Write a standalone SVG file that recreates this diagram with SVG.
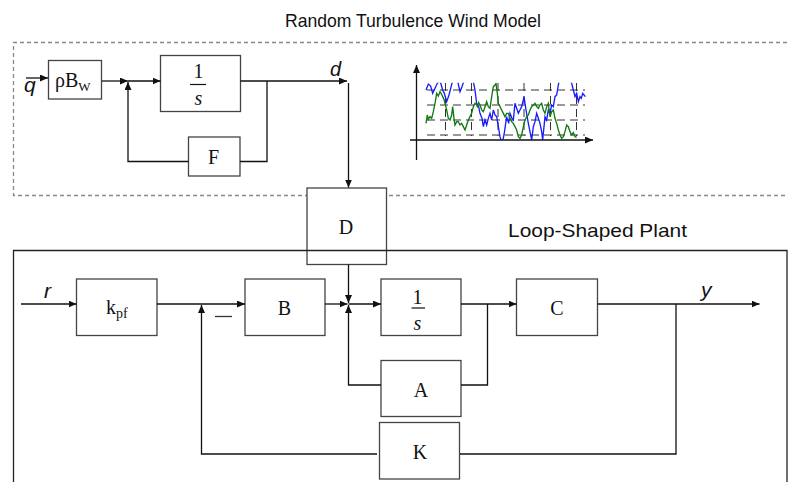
<svg xmlns="http://www.w3.org/2000/svg" width="788" height="482" viewBox="0 0 788 482">
<style>
.box{fill:#fff;stroke:#444;stroke-width:1.3}
.ln{fill:none;stroke:#111;stroke-width:1.3}
.dash{fill:none;stroke:#888;stroke-width:1.3;stroke-dasharray:4 3}
.serif{font-family:"Liberation Serif","Times New Roman",serif;fill:#111}
.sans{font-family:"Liberation Sans",Arial,sans-serif;fill:#111}
.it{font-family:"Liberation Sans",Arial,sans-serif;font-style:italic;fill:#111}
.grid{fill:none;stroke:#333;stroke-width:1;stroke-dasharray:8 5}
</style>
<defs>
<marker id="ah" markerUnits="userSpaceOnUse" markerWidth="8" markerHeight="7" refX="8" refY="3.5" orient="auto">
<path d="M0,0 L8,3.5 L0,7 z" fill="#111"/>
</marker>
<clipPath id="cc"><rect x="60" y="68" width="510" height="171"/></clipPath>
</defs>

<rect width="788" height="482" fill="#fff"/>

<!-- wind model container -->
<g id="wind-model">
<path class="dash" d="M787,42.5 H13.5 V195.5 H787"/>
<text class="sans" x="285" y="26.5" font-size="18.5" textLength="256" lengthAdjust="spacingAndGlyphs">Random Turbulence Wind Model</text>
</g>

<!-- turbulence chart -->
<g id="chart">
<line class="grid" x1="427" y1="90" x2="585" y2="90"/>
<line class="grid" x1="427" y1="105" x2="585" y2="105"/>
<line class="grid" x1="427" y1="120" x2="585" y2="120"/>
<line class="grid" x1="427" y1="135" x2="585" y2="135"/>
<line class="grid" x1="445.5" y1="83" x2="445.5" y2="136"/>
<line class="grid" x1="471.5" y1="83" x2="471.5" y2="136"/>
<line class="grid" x1="498" y1="83" x2="498" y2="136"/>
<line class="grid" x1="524" y1="83" x2="524" y2="136"/>
<line class="grid" x1="550.5" y1="83" x2="550.5" y2="136"/>
<line class="grid" x1="576.5" y1="83" x2="576.5" y2="136"/>
<g transform="translate(400,60) scale(0.33333)" clip-path="url(#cc)">
<polyline fill="none" stroke="#1a1aff" stroke-width="4" points="78,90 85,72 92,78 98,100 105,85 112,70 120,62 128,90 133,100 140,125 147,105 152,85 158,62 170,50 180,95 186,80 192,62 205,50 220,65 225,90 230,130 236,140 240,160 246,175 250,200 255,180 260,195 265,175 270,160 275,180 280,150 285,165 290,170 295,200 300,230 306,250 312,225 320,170 326,190 330,160 336,175 340,180 345,130 350,145 355,160 360,150 365,140 370,120 372,110 378,150 385,190 390,215 395,240 400,200 405,185 410,160 415,175 420,190 425,215 428,240 432,200 435,170 440,180 445,150 450,160 455,135 460,140 465,110 470,105 475,75 480,50 510,50 515,70 520,90 525,110 530,100 535,125 540,110 544,115 548,100 552,105 556,110"/>
<polyline fill="none" stroke="#107a10" stroke-width="4" points="78,190 82,165 85,178 90,170 95,175 100,155 105,130 110,100 115,108 120,95 125,103 128,110 132,118 135,130 140,150 145,175 150,180 155,165 158,140 162,175 165,195 170,185 175,185 180,195 185,190 190,200 195,210 200,195 205,180 210,170 215,160 220,140 225,130 230,135 232,140 236,128 240,135 245,150 250,155 255,140 260,125 265,140 270,145 275,110 280,80 285,75 288,70 292,100 295,130 300,140 305,150 310,160 315,170 320,160 325,160 330,175 335,185 340,190 345,200 350,210 355,230 360,235 365,225 370,200 375,180 380,170 385,165 390,150 395,140 400,135 405,130 410,140 415,145 420,135 425,130 430,150 435,160 440,140 445,130 450,170 455,155 460,150 465,175 470,190 475,210 480,225 485,235 490,230 495,215 500,195 505,200 510,215 515,225 520,218 525,230 530,232"/>
</g>
<line class="ln" x1="416.5" y1="160" x2="416.5" y2="65" marker-end="url(#ah)"/>
<line class="ln" x1="410" y1="140" x2="593" y2="140" marker-end="url(#ah)"/>
</g>

<!-- nodes of wind model -->
<g id="node-rhoBw">
<rect class="box" x="48.5" y="60.5" width="53" height="38.5"/>
<text class="serif" x="55" y="87" font-size="20">ρB<tspan font-size="13" dy="4">W</tspan></text>
</g>
<g id="node-integrator-w">
<rect class="box" x="160.5" y="55.5" width="80" height="56"/>
<text class="serif" x="198.5" y="78" font-size="20" text-anchor="middle">1</text>
<line x1="190" y1="84.5" x2="206" y2="84.5" stroke="#111" stroke-width="1.2"/>
<text class="serif" x="198.5" y="105" font-size="20" font-style="italic" text-anchor="middle">s</text>
</g>
<g id="node-F">
<rect class="box" x="188.5" y="137" width="51.5" height="39"/>
<text class="serif" x="213.5" y="164" font-size="20" text-anchor="middle">F</text>
</g>
<g id="label-q">
<text class="it" x="24" y="92" font-size="21">q</text>
<line class="ln" x1="26" y1="78" x2="48" y2="78" marker-end="url(#ah)"/>
</g>
<g id="label-d">
<text class="it" x="330" y="76" font-size="20">d</text>
</g>

<!-- D node -->
<g id="node-D">
<rect class="box" x="307" y="188" width="79.5" height="76.5"/>
<text class="serif" x="346" y="234" font-size="20" text-anchor="middle">D</text>
</g>

<!-- plant container -->
<g id="loop-shaped-plant">
<path fill="none" stroke="#222" stroke-width="1.3" d="M13.5,484 V250.5 H787 V484"/>
<text class="sans" x="508" y="237" font-size="18.5" textLength="179" lengthAdjust="spacingAndGlyphs">Loop-Shaped Plant</text>
</g>

<g id="node-kpf">
<rect class="box" x="76.5" y="279" width="80.5" height="56.5"/>
<text class="serif" x="106" y="314" font-size="20">k<tspan font-size="14" dy="4">pf</tspan></text>
</g>
<g id="node-B">
<rect class="box" x="245" y="279" width="80" height="56.5"/>
<text class="serif" x="284.5" y="315" font-size="20" text-anchor="middle">B</text>
</g>
<g id="node-integrator">
<rect class="box" x="381" y="279" width="80" height="56.5"/>
<text class="serif" x="417.5" y="304" font-size="20" text-anchor="middle">1</text>
<line x1="411.5" y1="308" x2="425" y2="308" stroke="#111" stroke-width="1.2"/>
<text class="serif" x="417.5" y="330" font-size="20" font-style="italic" text-anchor="middle">s</text>
</g>
<g id="node-C">
<rect class="box" x="516.5" y="279" width="81" height="56.5"/>
<text class="serif" x="557" y="315" font-size="20" text-anchor="middle">C</text>
</g>
<g id="node-A">
<rect class="box" x="381" y="360.5" width="80" height="56"/>
<text class="serif" x="421" y="397" font-size="20" text-anchor="middle">A</text>
</g>
<g id="node-K">
<rect class="box" x="379.5" y="422.5" width="80" height="56.5"/>
<text class="serif" x="420" y="459" font-size="20" text-anchor="middle">K</text>
</g>
<g id="labels-plant">
<text class="it" x="44" y="298" font-size="21">r</text>
<text class="it" x="701" y="297" font-size="21">y</text>
<line x1="215" y1="316.5" x2="232" y2="316.5" stroke="#333" stroke-width="1.3"/>
</g>

<!-- connectors -->
<g id="connectors" class="ln">
<polyline class="ln" points="102,81 128,81" marker-end="url(#ah)"/>
<polyline class="ln" points="128,81 160.5,81" marker-end="url(#ah)"/>
<polyline class="ln" points="240.5,81 347,81" marker-end="url(#ah)"/>
<polyline class="ln" points="267,81 267,161.5 240,161.5"/>
<polyline class="ln" points="188.5,161.5 128,161.5 128,82" marker-end="url(#ah)"/>
<polyline class="ln" points="348.5,83 348.5,187.5" marker-end="url(#ah)"/>
<polyline class="ln" points="21,304 76.5,304" marker-end="url(#ah)"/>
<polyline class="ln" points="157,304 245,304" marker-end="url(#ah)"/>
<polyline class="ln" points="377,454 201.5,454 201.5,305" marker-end="url(#ah)"/>
<polyline class="ln" points="325,304 347.5,304" marker-end="url(#ah)"/>
<polyline class="ln" points="348.5,264.5 348.5,303" marker-end="url(#ah)"/>
<polyline class="ln" points="381,385 348.5,385 348.5,305" marker-end="url(#ah)"/>
<polyline class="ln" points="348.5,304 381,304" marker-end="url(#ah)"/>
<polyline class="ln" points="461,304 516.5,304" marker-end="url(#ah)"/>
<polyline class="ln" points="487.5,304 487.5,385 461,385"/>
<polyline class="ln" points="597.5,304 759.5,304" marker-end="url(#ah)"/>
<polyline class="ln" points="676,304 676,454 460,454"/>
</g>
</svg>
